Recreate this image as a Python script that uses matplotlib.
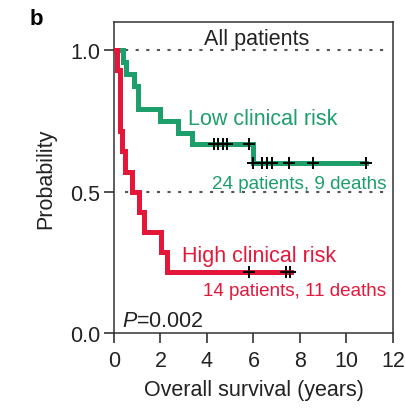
import numpy as np
import matplotlib
matplotlib.use("Agg")
import matplotlib.pyplot as plt

plt.rcParams['font.family'] = ['Liberation Sans', 'DejaVu Sans']
plt.rcParams['mathtext.fontset'] = 'custom'
plt.rcParams['mathtext.rm'] = 'Liberation Sans'
plt.rcParams['mathtext.it'] = 'Liberation Sans:italic'

# ---- data ----
low_times = [0, 0.38, 0.50, 0.86, 1.03, 1.98, 2.75, 3.35, 6.00, 10.83]
low_surv = [1.0, 0.958, 0.917, 0.875, 0.792, 0.750, 0.708, 0.667, 0.600, 0.600]
low_censor = [4.28, 4.49, 4.68, 4.88, 5.82, 6.00, 6.35, 6.56, 6.78, 7.54, 8.57, 10.83]

high_times = [0, 0.12, 0.26, 0.35, 0.47, 0.77, 1.08, 1.29, 2.02, 2.30, 7.62]
high_surv = [1.0, 0.929, 0.714, 0.643, 0.571, 0.500, 0.429, 0.357, 0.286, 0.214, 0.214]
high_censor = [5.82, 7.40, 7.57]

ref_lines = [1.0, 0.5]
xticks = [0, 2, 4, 6, 8, 10, 12]
yticks = [0.0, 0.5, 1.0]
yticklabels = ['0.0', '0.5', '1.0']

GREEN = '#1c9f6b'
RED = '#e4173b'
FS = 15.5


def surv_at(times, surv, t):
    idx = np.searchsorted(times, t, side='right') - 1
    return np.asarray(surv)[idx]


fig = plt.figure(figsize=(4.06, 4.10), dpi=100)
ax = fig.add_axes([114 / 406, 1 - 334 / 410, (393 - 114) / 406, (334 - 23) / 410])

for yv in ref_lines:
    ax.axhline(yv, xmin=0.04, xmax=0.99, color='#555555', lw=1.5,
               dashes=(1.5, 3.6), zorder=1)

ax.step(low_times, low_surv, where='post', color=GREEN, lw=3.6, zorder=3,
        solid_joinstyle='miter')
ax.step(high_times, high_surv, where='post', color=RED, lw=3.6, zorder=3,
        solid_joinstyle='miter')

ax.plot(low_censor, surv_at(low_times, low_surv, low_censor), ls='none',
        marker='+', ms=9, mew=1.4, color='black', zorder=4)
ax.plot(high_censor, surv_at(high_times, high_surv, high_censor), ls='none',
        marker='+', ms=9, mew=1.4, color='black', zorder=4)

ax.set_xlim(0, 12)
ax.set_ylim(0, 1.1)
ax.set_xticks(xticks)
ax.set_yticks(yticks)
ax.set_yticklabels(yticklabels)
ax.tick_params(axis='both', direction='out', length=7, width=1.1,
               labelsize=FS, colors='#222222')
ax.tick_params(axis='y', pad=3)
ax.tick_params(axis='x', pad=5)
for s in ax.spines.values():
    s.set_linewidth(1.1)
    s.set_color('#333333')

ax.set_xlabel('Overall survival (years)', fontsize=FS, color='#222222', labelpad=6)
ax.set_ylabel('Probability', fontsize=FS, color='#222222', labelpad=10)

ax.text(6.15, 1.021, 'All patients', ha='center', va='baseline', fontsize=FS,
        color='#222222')
ax.text(3.18, 0.739, 'Low clinical risk', ha='left', va='baseline', fontsize=FS,
        color=GREEN)
ax.text(11.7, 0.512, '24 patients, 9 deaths', ha='right', va='baseline',
        fontsize=13.6, color=GREEN)
ax.text(2.92, 0.254, 'High clinical risk', ha='left', va='baseline', fontsize=FS,
        color=RED)
ax.text(11.7, 0.134, '14 patients, 11 deaths', ha='right', va='baseline',
        fontsize=13.6, color=RED)
ax.text(0.34, 0.025, r'$\mathit{P}$=0.002', ha='left', va='baseline',
        fontsize=FS, color='#222222')

fig.text(30 / 406, 1 - 25 / 410, 'b', fontsize=16, fontweight='bold',
         ha='left', va='baseline')

fig.savefig('out.png', dpi=100)
